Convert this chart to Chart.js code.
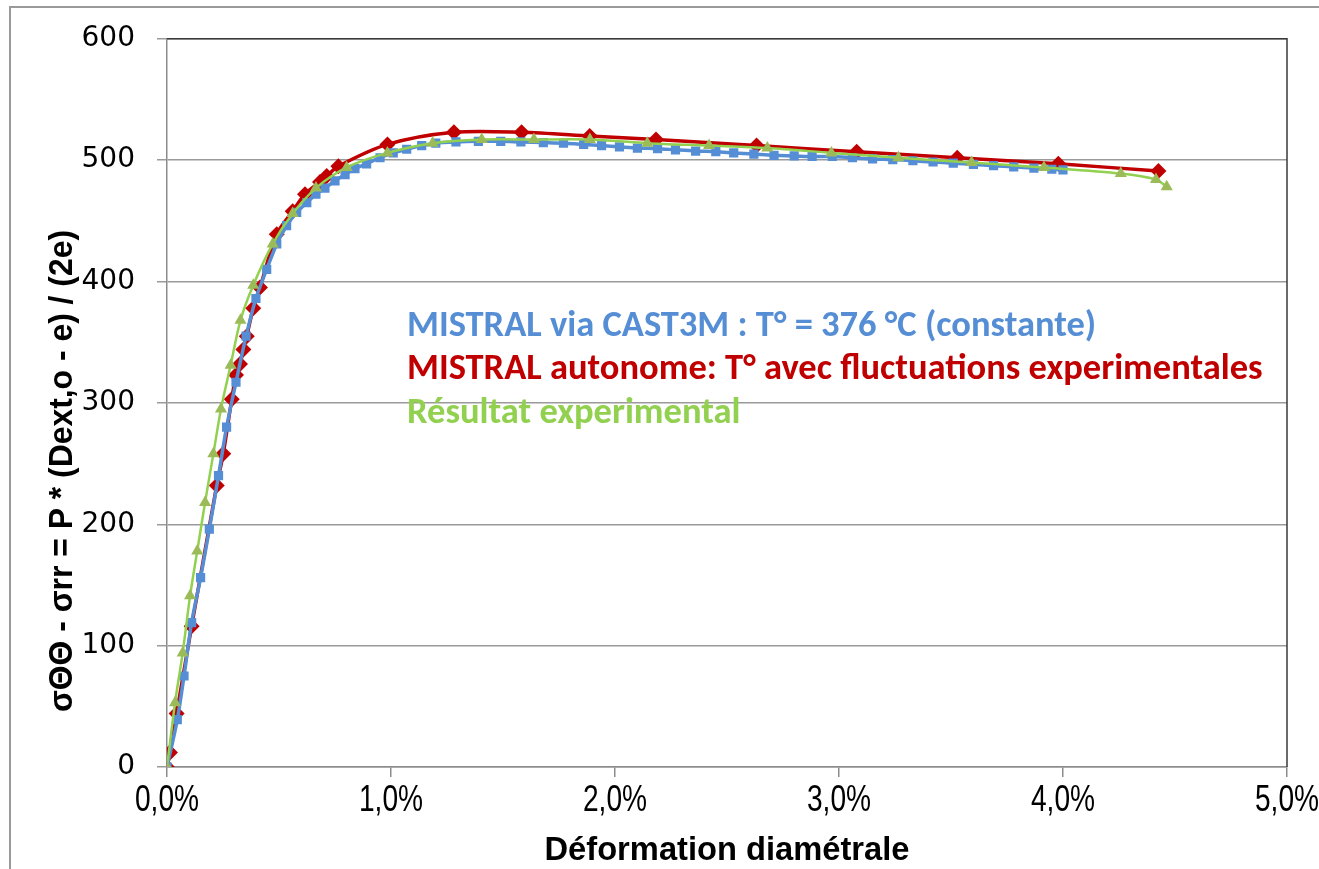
<!DOCTYPE html>
<html>
<head>
<meta charset="utf-8">
<script src="https://cdn.jsdelivr.net/npm/chart.js@4.4.0/dist/chart.umd.min.js"></script>
<style>
  html, body { margin: 0; padding: 0; background: #fff; }
  #wrap { width: 1319px; height: 869px; }
</style>
</head>
<body>
<div id="wrap"><canvas id="stressChart" width="1319" height="869"></canvas></div>
<script>
// déformation diamétrale en %, contrainte en MPa
const castemStrain = [0, 0.046, 0.076, 0.11, 0.15, 0.189, 0.23, 0.266, 0.308, 0.353, 0.397, 0.445, 0.49, 0.534, 0.579,
  0.624, 0.665, 0.705, 0.75, 0.795, 0.839, 0.891, 0.951, 1.01, 1.07, 1.137, 1.2, 1.29, 1.39, 1.49, 1.58, 1.68, 1.77,
  1.86, 1.94, 2.02, 2.1, 2.19, 2.27, 2.36, 2.45, 2.53, 2.62, 2.71, 2.8, 2.88, 2.97, 3.06, 3.15, 3.24, 3.33, 3.42,
  3.51, 3.6, 3.69, 3.78, 3.87, 3.95, 4.0];
const castemStress = [0, 39, 75, 119, 156, 196, 240, 280, 317, 355, 386, 410, 431, 446, 457,
  465, 472, 477, 483, 488, 493, 497, 502, 506, 509, 512, 514, 515, 515.5, 515.5, 515, 514.5, 514,
  513, 512, 511, 510, 509.5, 508.5, 507.5, 507, 506, 505, 504, 503.5, 503, 503, 502, 501, 500.5, 499.5, 498.5,
  497.5, 496.5, 495.5, 494.5, 493.5, 492.5, 492];

const autonomeStrain = [0, 0.013, 0.043, 0.11, 0.222, 0.251, 0.289, 0.308, 0.326, 0.341, 0.356, 0.385, 0.415, 0.49,
  0.561, 0.616, 0.683, 0.713, 0.765, 0.984, 1.281, 1.583, 1.887, 2.183, 2.632, 3.079, 3.528, 3.979, 4.426];
const autonomeStress = [0, 12, 44, 116, 232, 258, 303, 323, 332, 344, 355, 378, 395, 439,
  458, 472, 482, 487, 495, 513, 523, 523, 520, 517, 512, 507, 502, 497, 491];

const experStrain = [0, 0.036, 0.07, 0.103, 0.135, 0.17, 0.207, 0.241, 0.284, 0.328, 0.385, 0.472, 0.561, 0.665,
  0.802, 0.984, 1.186, 1.405, 1.638, 1.888, 2.144, 2.42, 2.68, 2.966, 3.265, 3.592, 3.915, 4.258, 4.415, 4.463];
const experStress = [0, 53, 94, 141, 178, 218, 258, 295, 331, 368, 397, 431, 456, 477,
  494, 506, 514, 517, 517, 517, 514, 512, 510, 506, 502, 498, 494, 489, 484, 478];

const seriesLabels = [
  'MISTRAL via CAST3M : T° = 376 °C (constante)',
  'MISTRAL autonome: T° avec fluctuations experimentales',
  'Résultat experimental'
];
const strainTicks = [0, 1, 2, 3, 4, 5];
const strainTickLabels = ['0,0%', '1,0%', '2,0%', '3,0%', '4,0%', '5,0%'];
const xTitle = 'Déformation diamétrale';
const yTitle = 'σΘΘ - σrr = P * (Dext,o - e) / (2e)';

const BLUE = '#558ED5';
const RED = '#C00000';
const GREEN = '#92D050';
const GREEN_MARK = '#9BBB59';
const SANS = "'Liberation Sans', Arial, sans-serif";

function toPoints(xs, ys) {
  return xs.map((x, i) => ({ x: x, y: ys[i] }));
}

// text squeezed horizontally by sx (narrow face look)
function drawSqueezed(ctx, text, x, y, font, sx, angle) {
  ctx.save();
  ctx.font = font;
  ctx.translate(x, y);
  ctx.rotate(angle || 0);
  ctx.scale(sx, 1);
  ctx.textAlign = 'center';
  ctx.textBaseline = 'middle';
  ctx.fillStyle = '#000';
  ctx.fillText(text, 0, 0);
  ctx.restore();
}

function squeezeFor(ctx, text, font, width) {
  ctx.save();
  ctx.font = font;
  const w = ctx.measureText(text).width;
  ctx.restore();
  return width / w;
}

// outer frame and the darker top/right edges of the plot area
const frame = {
  id: 'frame',
  beforeDraw(chart) {
    const ctx = chart.ctx;
    ctx.save();
    ctx.fillStyle = '#fff';
    ctx.fillRect(0, 0, chart.width, chart.height);
    ctx.strokeStyle = '#9a9a9a';
    ctx.lineWidth = 2;
    ctx.strokeRect(10, 7, chart.width + 20, chart.height + 20);
    ctx.restore();
  },
  afterDraw(chart) {
    const { left, right, top, bottom } = chart.chartArea;
    const ctx = chart.ctx;
    ctx.save();
    ctx.strokeStyle = '#3a3a3a';
    ctx.lineWidth = 1.5;
    ctx.beginPath();
    ctx.moveTo(left, top);
    ctx.lineTo(right, top);
    ctx.lineTo(right, bottom);
    ctx.stroke();
    ctx.restore();
  }
};

// x tick labels and both axis titles in a condensed face
const axisText = {
  id: 'axisText',
  afterDraw(chart) {
    const ctx = chart.ctx;
    const xScale = chart.scales.x;
    const area = chart.chartArea;
    const tickFont = '36px ' + SANS;
    strainTicks.forEach((v, i) => {
      drawSqueezed(ctx, strainTickLabels[i], xScale.getPixelForValue(v), area.bottom + 34, tickFont, 0.78);
    });
    const titleFont = 'bold 34px ' + SANS;
    drawSqueezed(ctx, xTitle, (area.left + area.right) / 2, area.bottom + 84, titleFont,
      squeezeFor(ctx, xTitle, titleFont, 365));
    const yFont = 'bold 33px ' + SANS;
    drawSqueezed(ctx, yTitle, 63, 471, yFont, squeezeFor(ctx, yTitle, yFont, 482), -Math.PI / 2);
  }
};

// coloured series names written inside the plot area
const inlineLegend = {
  id: 'inlineLegend',
  afterDatasetsDraw(chart) {
    const ctx = chart.ctx;
    const family = "Carlito, Lato, 'Open Sans', sans-serif";
    ctx.save();
    ctx.font = 'bold 30px ' + family;
    const size = 30 * 690 / ctx.measureText(seriesLabels[0]).width;
    ctx.font = 'bold ' + size.toFixed(1) + 'px ' + family;
    ctx.textAlign = 'left';
    ctx.textBaseline = 'alphabetic';
    const colors = [BLUE, RED, GREEN];
    const x = chart.chartArea.left + 240;
    [336, 379, 423].forEach((y, i) => {
      ctx.fillStyle = colors[i];
      ctx.fillText(seriesLabels[i], x, y);
    });
    ctx.restore();
  }
};

new Chart(document.getElementById('stressChart'), {
  type: 'scatter',
  data: {
    datasets: [
      {
        label: seriesLabels[2],
        data: toPoints(experStrain, experStress),
        showLine: true,
        tension: 0.3,
        borderColor: GREEN,
        borderWidth: 2.5,
        pointStyle: 'triangle',
        pointRadius: 7,
        pointBackgroundColor: GREEN_MARK,
        pointBorderColor: GREEN_MARK,
        pointBorderWidth: 0,
        order: 0
      },
      {
        label: seriesLabels[0],
        data: toPoints(castemStrain, castemStress),
        showLine: true,
        tension: 0.3,
        borderColor: BLUE,
        borderWidth: 3.5,
        pointStyle: 'rect',
        pointRadius: 6.5,
        pointBackgroundColor: BLUE,
        pointBorderColor: BLUE,
        pointBorderWidth: 0,
        order: 1
      },
      {
        label: seriesLabels[1],
        data: toPoints(autonomeStrain, autonomeStress),
        showLine: true,
        tension: 0.3,
        borderColor: RED,
        borderWidth: 3.5,
        pointStyle: 'rectRot',
        pointRadius: 8,
        pointBackgroundColor: RED,
        pointBorderColor: RED,
        pointBorderWidth: 0,
        order: 2
      }
    ]
  },
  options: {
    responsive: false,
    animation: false,
    layout: { padding: { top: 33, right: 32, bottom: 0, left: 0 } },
    plugins: {
      legend: { display: false },
      tooltip: { enabled: false }
    },
    scales: {
      x: {
        type: 'linear',
        min: 0,
        max: 5,
        afterFit: (scale) => { scale.height = 102; },
        ticks: { stepSize: 1, display: false },
        grid: { drawOnChartArea: false, drawTicks: true, tickLength: 10, color: '#8c8c8c', lineWidth: 1.5 },
        border: { color: '#8c8c8c', width: 1.5 },
        title: { display: false }
      },
      y: {
        min: 0,
        max: 600,
        afterFit: (scale) => { scale.width = 167; },
        ticks: {
          stepSize: 100,
          color: '#000',
          padding: 22,
          font: { family: "'DejaVu Sans', sans-serif", size: 28 }
        },
        grid: { color: '#9a9a9a', lineWidth: 1.5, tickLength: 10 },
        border: { color: '#8c8c8c', width: 1.5 },
        title: { display: false }
      }
    }
  },
  plugins: [frame, axisText, inlineLegend]
});
</script>
</body>
</html>
